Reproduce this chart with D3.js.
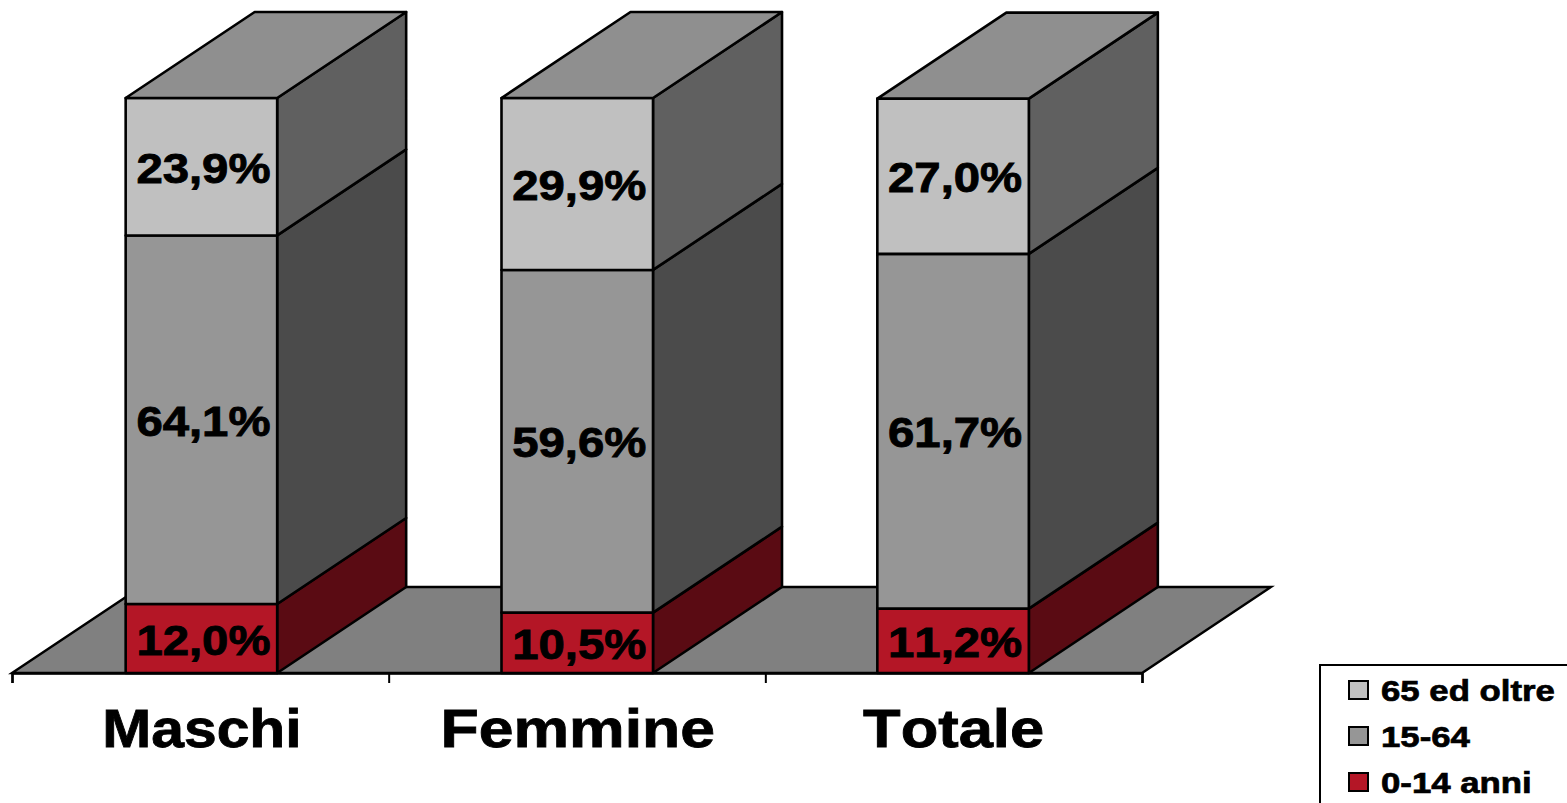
<!DOCTYPE html>
<html>
<head>
<meta charset="utf-8">
<script src="https://cdn.jsdelivr.net/npm/d3@7"></script>
<style>
  html, body { margin: 0; padding: 0; background: #fff; overflow: hidden; }
  text { font-family: "Liberation Sans", Arial, sans-serif; font-weight: bold; fill: #000; stroke: #000; font-kerning: none; }
</style>
</head>
<body>
<svg id="chart" width="1567" height="803"></svg>
<script>
// data, bottom segment first
var categories = ["Maschi", "Femmine", "Totale"]
var seriesNames = ["0-14 anni", "15-64", "65 ed oltre"]
var young = [12.0, 10.5, 11.2]
var adult = [64.1, 59.6, 61.7]
var old = [23.9, 29.9, 27.0]

var frontColors = ["#b41626", "#969696", "#c0c0c0"]
var sideColors = ["#5a0b13", "#4b4b4b", "#606060"]
var topColor = "#8f8f8f"
var floorColor = "#808080"

var width = 1567
var height = 803
var depthX = 129
var depthY = 86
var barWidth = 151.5
var labelStretch = [1.11, 1.18, 1.16]

var svg = d3.select("#chart")

var x = d3.scaleBand().domain(categories).range([13, 1140.5])
var y = d3.scaleLinear().domain([0, 100]).range([673, 98])
var edges = d3.scaleLinear().domain([0, categories.length]).range([12, 1142])

var stack = d3.stack().keys(d3.range(3))
var rows = categories.map((c, i) => [young[i], adult[i], old[i]])
var layers = stack(rows)

function poly(points) {
  return d3.line()(points) + "Z"
}

function barLeft(i) {
  return x(categories[i]) + x.bandwidth() / 2 - barWidth / 2 + 0.5
}

// floor
svg.append("path")
  .attr("d", poly([
    [edges.range()[0], y(0)],
    [edges.range()[0] + depthX, y(0) - depthY],
    [edges.range()[1] + depthX, y(0) - depthY],
    [edges.range()[1], y(0)]
  ]))
  .attr("fill", floorColor)
  .attr("stroke", "#000")
  .attr("stroke-width", 2.4)

// axis, ticks sit on the category edges
var axis = svg.append("g")
  .attr("transform", `translate(0,${y(0)})`)
  .call(d3.axisBottom(edges).ticks(categories.length).tickFormat("").tickSizeInner(10).tickSizeOuter(10))
axis.selectAll("line").attr("stroke", "#000").attr("stroke-width", 2)
axis.select("path").attr("stroke", "#000").attr("stroke-width", 2.5)

// bars
var lineStyle = g => g.attr("stroke", "#000").attr("stroke-width", 2.6).attr("stroke-linejoin", "round")

layers.forEach((layer, s) => {
  layer.forEach((d, i) => {
    var x0 = barLeft(i)
    var x1 = x0 + barWidth
    var y0 = y(d[0])
    var y1 = y(d[1])
    var g = svg.append("g").call(lineStyle)

    g.append("path")
      .attr("d", poly([[x1, y0], [x1 + depthX, y0 - depthY], [x1 + depthX, y1 - depthY], [x1, y1]]))
      .attr("fill", sideColors[s])
    g.append("rect")
      .attr("x", x0).attr("y", y1)
      .attr("width", barWidth).attr("height", y0 - y1)
      .attr("fill", frontColors[s])
    if (s == layers.length - 1) {
      g.append("path")
        .attr("d", poly([[x0, y1], [x0 + depthX, y1 - depthY], [x1 + depthX, y1 - depthY], [x1, y1]]))
        .attr("fill", topColor)
    }

    svg.append("text")
      .attr("transform", `translate(${x0 + barWidth / 2 + 2},${(y0 + y1) / 2 + 16}) scale(1.1,1)`)
      .attr("text-anchor", "middle")
      .attr("stroke-width", 0.9)
      .style("font-size", "43px")
      .text((d[1] - d[0]).toFixed(1).replace(".", ",") + "%")
  })
})

// category labels
svg.append("g")
  .selectAll("text")
  .data(categories)
  .join("text")
  .attr("transform", (d, i) => `translate(${x(d) + x.bandwidth() / 2 + 1},747) scale(${labelStretch[i]},1)`)
  .attr("text-anchor", "middle")
  .attr("stroke-width", 0.8)
  .style("font-size", "53px")
  .text(d => d)

// legend, runs off the right and bottom of the picture
var legend = svg.append("g")
legend.append("rect")
  .attr("x", 1320).attr("y", 665)
  .attr("width", 300).attr("height", 200)
  .attr("fill", "#fff")
  .attr("stroke", "#000")
  .attr("stroke-width", 2)

var legendOrder = [2, 1, 0]
var legendY = d3.scalePoint().domain(legendOrder).range([690, 782])

legendOrder.forEach(s => {
  legend.append("rect")
    .attr("x", 1349).attr("y", legendY(s) - 9)
    .attr("width", 19).attr("height", 18)
    .attr("fill", frontColors[s])
    .attr("stroke", "#000")
    .attr("stroke-width", 2)
  legend.append("text")
    .attr("transform", `translate(1381,${legendY(s) + 11}) scale(1.16,1)`)
    .attr("stroke-width", 0.7)
    .style("font-size", "30px")
    .text(seriesNames[s])
})
</script>
</body>
</html>
